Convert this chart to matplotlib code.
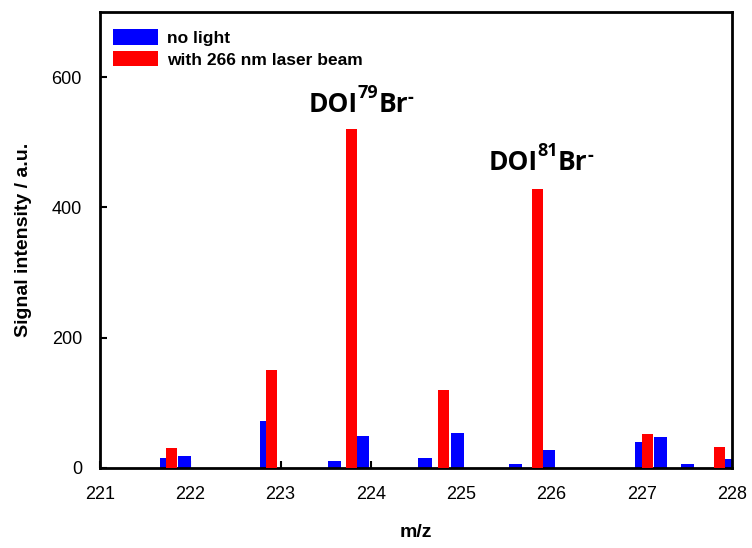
import matplotlib.pyplot as plt

# blue series: no irradiation
mz_dark = [221.74, 221.94, 222.84, 223.60, 223.91, 224.60, 224.96,
           225.60, 225.97, 227.00, 227.21, 227.51, 228.00]
sig_dark = [15, 18, 72, 11, 49, 16, 54, 6, 28, 40, 48, 6, 14]

# red series: with 266 nm laser
mz_laser = [221.79, 222.90, 223.79, 224.80, 225.85, 227.06, 227.86]
sig_laser = [31, 150, 520, 120, 429, 52, 32]

# peak labels: (left x, baseline y, isotope)
peak_labels = [(223.31, 547, '79'), (225.30, 458, '81')]

plt.rcParams['font.family'] = ['Liberation Sans', 'DejaVu Sans']

fig = plt.figure(figsize=(7.52, 5.48), dpi=100)
ax = fig.add_axes([0.133, 0.146, 0.8404, 0.832])

ax.bar(mz_dark, sig_dark, width=0.145, color='#0000FF', linewidth=0,
       label='no light', zorder=2)
ax.bar(mz_laser, sig_laser, width=0.122, color='#FF0000', linewidth=0,
       label='with 266 nm laser beam', zorder=3)

ax.set_xlim(221, 228)
ax.set_ylim(0, 700)
ax.set_xticks(range(221, 229))
ax.set_yticks([0, 200, 400, 600])
ax.tick_params(direction='in', length=5, width=1.5, labelsize=13)
ax.tick_params(axis='x', pad=13)
ax.tick_params(axis='y', pad=13)
for s in ax.spines.values():
    s.set_linewidth(2)

ax.set_xlabel('m/z', fontsize=14, fontweight='bold', labelpad=15)
ax.set_ylabel('Signal intensity / a.u.', fontsize=14, fontweight='bold', labelpad=14)

# "DOI^nBr^-" built piece by piece so the superscripts sit like in a text editor
lab_font = dict(fontweight='bold', family=['Open Sans', 'DejaVu Sans'])
for x0, y0, iso in peak_labels:
    t1 = ax.text(x0, y0, 'DOI', fontsize=19, va='baseline', **lab_font)
    t2 = ax.annotate(iso, xy=(1, 0), xycoords=t1, xytext=(0, 20),
                     textcoords='offset pixels', fontsize=13, va='baseline',
                     **lab_font)
    t3 = ax.annotate('Br', xy=(1, 0), xycoords=(t2, t1), xytext=(0, 0),
                     textcoords='offset pixels', fontsize=19, va='bottom',
                     **lab_font)
    ax.annotate('-', xy=(1, 0), xycoords=(t3, t1), xytext=(0, 11),
                textcoords='offset pixels', fontsize=13, va='bottom',
                **lab_font)

leg = ax.legend(loc='upper left', bbox_to_anchor=(0.0095, 0.978), frameon=False,
                prop={'weight': 'bold', 'size': 12.5},
                handlelength=2.6, handleheight=1.0, handletextpad=0.5,
                labelspacing=0.3, borderaxespad=0)

fig.savefig('out.png', dpi=100)
